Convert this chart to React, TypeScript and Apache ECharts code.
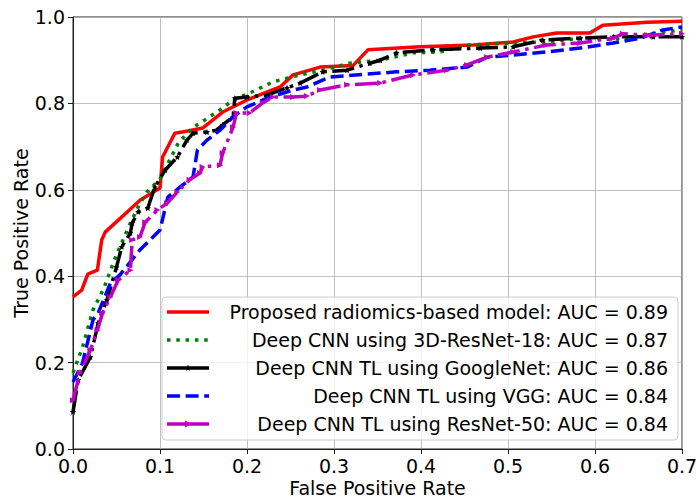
import React, { useEffect, useRef } from "react";
import * as echarts from "echarts";

const seriesNames = [
  "Proposed radiomics-based model: AUC = 0.89",
  "Deep CNN using 3D-ResNet-18: AUC = 0.87",
  "Deep CNN TL using GoogleNet: AUC = 0.86",
  "Deep CNN TL using VGG: AUC = 0.84",
  "Deep CNN TL using ResNet-50: AUC = 0.84",
];

const redX = [0, 0.01, 0.017, 0.028, 0.033, 0.037, 0.077, 0.1, 0.103, 0.117, 0.132, 0.149, 0.172, 0.2, 0.238, 0.253, 0.272, 0.284, 0.322, 0.339, 0.399, 0.46, 0.506, 0.529, 0.556, 0.594, 0.609, 0.66, 0.7];
const redY = [0.352, 0.368, 0.405, 0.414, 0.484, 0.502, 0.576, 0.604, 0.676, 0.731, 0.736, 0.743, 0.78, 0.808, 0.838, 0.866, 0.877, 0.884, 0.888, 0.924, 0.931, 0.935, 0.942, 0.954, 0.963, 0.963, 0.981, 0.988, 0.99];

const greenX = [0, 0.011, 0.023, 0.035, 0.05, 0.066, 0.077, 0.085, 0.1, 0.121, 0.137, 0.148, 0.169, 0.184, 0.203, 0.23, 0.261, 0.287, 0.318, 0.353, 0.391, 0.422, 0.453, 0.506, 0.544, 0.583, 0.621, 0.652, 0.7];
const greenY = [0.176, 0.236, 0.322, 0.37, 0.45, 0.523, 0.569, 0.595, 0.625, 0.708, 0.743, 0.757, 0.785, 0.808, 0.824, 0.85, 0.866, 0.877, 0.893, 0.9, 0.917, 0.919, 0.935, 0.94, 0.942, 0.951, 0.948, 0.958, 0.97];

const blackX = [0, 0.006, 0.02, 0.029, 0.039, 0.05, 0.056, 0.066, 0.068, 0.075, 0.086, 0.094, 0.106, 0.12, 0.131, 0.138, 0.154, 0.165, 0.172, 0.184, 0.186, 0.2, 0.223, 0.246, 0.261, 0.287, 0.315, 0.341, 0.353, 0.372, 0.414, 0.468, 0.506, 0.54, 0.583, 0.621, 0.667, 0.7];
const blackY = [0.086, 0.16, 0.213, 0.292, 0.345, 0.421, 0.468, 0.5, 0.523, 0.549, 0.558, 0.606, 0.646, 0.676, 0.715, 0.731, 0.734, 0.738, 0.75, 0.769, 0.812, 0.815, 0.819, 0.836, 0.847, 0.873, 0.877, 0.893, 0.9, 0.917, 0.924, 0.928, 0.931, 0.947, 0.951, 0.954, 0.954, 0.954];

const blueX = [0, 0.011, 0.023, 0.029, 0.043, 0.054, 0.077, 0.1, 0.109, 0.123, 0.138, 0.143, 0.154, 0.169, 0.184, 0.2, 0.223, 0.253, 0.269, 0.295, 0.372, 0.41, 0.453, 0.476, 0.506, 0.544, 0.583, 0.621, 0.652, 0.678, 0.7];
const blueY = [0.155, 0.199, 0.299, 0.315, 0.384, 0.403, 0.461, 0.507, 0.583, 0.606, 0.63, 0.692, 0.715, 0.738, 0.769, 0.792, 0.812, 0.831, 0.838, 0.861, 0.873, 0.877, 0.884, 0.907, 0.912, 0.919, 0.928, 0.94, 0.951, 0.97, 0.977];

const magentaX = [0, 0.008, 0.02, 0.028, 0.034, 0.043, 0.052, 0.066, 0.068, 0.077, 0.083, 0.097, 0.108, 0.12, 0.134, 0.146, 0.149, 0.169, 0.172, 0.184, 0.188, 0.203, 0.218, 0.23, 0.253, 0.269, 0.284, 0.315, 0.353, 0.391, 0.43, 0.453, 0.476, 0.506, 0.544, 0.583, 0.621, 0.632, 0.66, 0.7];
const magentaY = [0.113, 0.176, 0.229, 0.275, 0.315, 0.352, 0.391, 0.414, 0.484, 0.491, 0.525, 0.553, 0.569, 0.595, 0.623, 0.639, 0.653, 0.657, 0.685, 0.745, 0.778, 0.778, 0.801, 0.815, 0.815, 0.817, 0.831, 0.843, 0.847, 0.866, 0.877, 0.889, 0.907, 0.919, 0.935, 0.94, 0.951, 0.961, 0.958, 0.961];

const xMin = 0, xMax = 0.7, xStep = 0.1;
const yMin = 0, yMax = 1.0, yStep = 0.2;

const FONT = "DejaVu Sans";
const FS = 19;
const colors = ["#ff0000", "#008000", "#000000", "#0000ff", "#bf00bf"];
const dashes: (number[] | "solid")[] = ["solid", [3.5, 5.8], [22, 5.6, 3.5, 5.6], [13, 5.6], [22, 5.6, 3.5, 5.6]];
const LW = 3.5;
const STAR = "path://M0,-10L2.9,-4L9.5,-3.1L4.8,1.5L5.9,8.1L0,5L-5.9,8.1L-4.8,1.5L-9.5,-3.1L-2.9,-4Z";

const zip = (xs: number[], ys: number[]) => xs.map((x, i) => [x, ys[i]]);

export default function App() {
  const ref = useRef<HTMLDivElement>(null);
  useEffect(() => {
    if (!ref.current) return;
    const chart = echarts.init(ref.current, null, { renderer: "svg" });
    const gl = 73, gr = 14, gt = 17, gb = 48;

    const data = [zip(redX, redY), zip(greenX, greenY), zip(blackX, blackY), zip(blueX, blueY), zip(magentaX, magentaY)];
    const symbols: any[] = ["none", "none", STAR, "none", "triangle"];
    const series = data.map((d, i) => ({
      type: "line",
      name: seriesNames[i],
      data: d,
      showSymbol: symbols[i] !== "none",
      symbol: symbols[i],
      symbolSize: 6,
      symbolRotate: i === 4 ? -90 : 0,
      itemStyle: { color: colors[i], borderWidth: 0 },
      lineStyle: { color: colors[i], width: LW, type: dashes[i], cap: "butt" },
      z: 3 + i,
      silent: true,
    }));

    // legend drawn as graphic
    const lx = 162, ly = 297, lw = 516, lh = 143;
    const rowH = 28;
    const graphic: any[] = [
      {
        type: "rect",
        shape: { x: lx, y: ly, width: lw, height: lh, r: 4 },
        style: { fill: "rgba(255,255,255,0.8)", stroke: "#cccccc", lineWidth: 1 },
        z: 100,
      },
    ];
    seriesNames.forEach((name, i) => {
      const cy = ly + 15 + i * rowH;
      const x1 = lx + 5, x2 = lx + 47;
      const solidSample = i === 2 || i === 4;
      graphic.push({
        type: "line",
        shape: { x1, y1: cy, x2, y2: cy },
        style: {
          stroke: colors[i],
          lineWidth: LW,
          lineDash: solidSample || dashes[i] === "solid" ? null : dashes[i],
          lineCap: "butt",
        },
        z: 101,
      });
      if (i === 2) {
        const cx = (x1 + x2) / 2, r1 = 3.5, r2 = 1.5;
        const pts: number[][] = [];
        for (let k = 0; k < 10; k++) {
          const a = -Math.PI / 2 + (k * Math.PI) / 5;
          const r = k % 2 === 0 ? r1 : r2;
          pts.push([cx + r * Math.cos(a), cy + r * Math.sin(a)]);
        }
        graphic.push({ type: "polygon", shape: { points: pts }, style: { fill: colors[i] }, z: 102 });
      }
      if (i === 4) {
        const cx = (x1 + x2) / 2;
        graphic.push({
          type: "polygon",
          shape: { points: [[cx - 3, cy - 3.5], [cx + 3.5, cy], [cx - 3, cy + 3.5]] },
          style: { fill: colors[i] },
          z: 102,
        });
      }
      graphic.push({
        type: "text",
        x: lx + lw - 10,
        y: cy,
        style: {
          text: name,
          fill: "#000",
          font: `${FS}px "${FONT}"`,
          align: "right",
          verticalAlign: "middle",
        },
        z: 101,
      });
    });

    chart.setOption({
      animation: false,
      backgroundColor: "#fff",
      textStyle: { fontFamily: FONT },
      grid: {
        left: gl, right: gr, top: gt, bottom: gb,
        show: true, borderColor: "#222", borderWidth: 1, containLabel: false,
        outerBoundsMode: "none",
      },
      xAxis: {
        type: "value",
        min: xMin, max: xMax, interval: xStep,
        name: "False Positive Rate",
        nameLocation: "middle",
        nameGap: 29,
        nameMoveOverlap: false,
        nameTextStyle: { fontSize: FS, color: "#000", fontFamily: FONT },
        axisLine: { show: true, onZero: false, lineStyle: { color: "#222", width: 1 } },
        axisTick: { show: true, length: 5, lineStyle: { color: "#222" } },
        axisLabel: { fontSize: FS, color: "#000", margin: 7, fontFamily: FONT, formatter: (v: number) => v.toFixed(1) },
        splitLine: { show: true, lineStyle: { color: "#b0b0b0", width: 0.8 } },
      },
      yAxis: {
        type: "value",
        min: yMin, max: yMax, interval: yStep,
        name: "True Positive Rate",
        nameLocation: "middle",
        nameGap: 43,
        nameRotate: 90,
        nameMoveOverlap: false,
        nameTextStyle: { fontSize: FS, color: "#000", fontFamily: FONT },
        axisLine: { show: true, onZero: false, lineStyle: { color: "#222", width: 1 } },
        axisTick: { show: true, length: 5, lineStyle: { color: "#222" } },
        axisLabel: { fontSize: FS, color: "#000", margin: 8, fontFamily: FONT, formatter: (v: number) => v.toFixed(1) },
        splitLine: { show: true, lineStyle: { color: "#b0b0b0", width: 0.8 } },
      },
      series,
      graphic,
    });
    return () => chart.dispose();
  }, []);
  return <div ref={ref} style={{ position: "fixed", left: 0, top: 0, width: 696, height: 497 }} />;
}
